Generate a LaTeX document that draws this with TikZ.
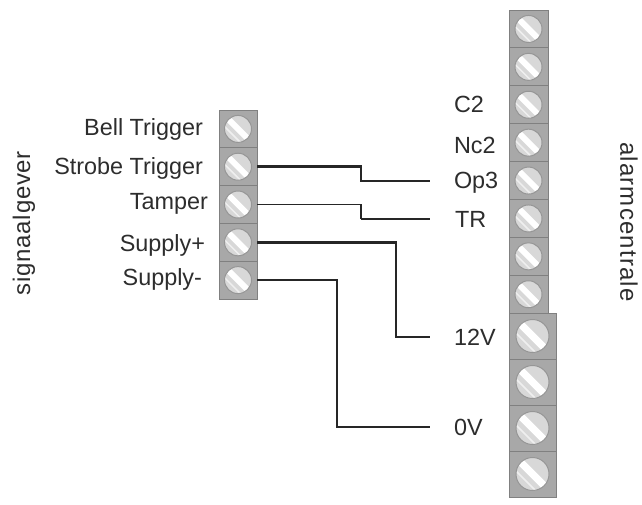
\documentclass[tikz,border=0pt]{standalone}
\usepackage{fontspec}
\setmainfont{Liberation Sans}
\newcommand{\termcell}[6]{% name, x, y, w, h, r
  \node[cellbox,minimum width=#4pt,minimum height=#5pt] (#1) at (#2+#4/2,#3+#5/2) {};
  \begin{scope}
    \clip (#1.center) circle (#6pt);
    \fill[screwface] (#1.center) circle (#6pt);
    \fill[screwslot,rotate around={-45:(#1.center)}] ($(#1.center)+(-#6,-0.22*#6)$) rectangle ($(#1.center)+(#6,0.22*#6)$);
    \draw[screwfaint,rotate around={-45:(#1.center)}] ($(#1.center)+(-#6,0.58*#6)$) -- ($(#1.center)+(#6,0.58*#6)$);
  \end{scope}
  \draw[screwrim] (#1.center) circle (#6pt);
}
\usetikzlibrary{calc}
\definecolor{cellgray}{RGB}{168,168,168}
\definecolor{celledge}{RGB}{128,128,128}
\definecolor{facegray}{RGB}{216,216,216}
\definecolor{rimgray}{RGB}{150,150,150}
\definecolor{inkc}{RGB}{45,45,45}
\tikzset{
  x=1pt,y=-1pt,
  cellbox/.style={draw=celledge,fill=cellgray,line width=0.9pt,inner sep=0pt,outer sep=0pt},
  screwface/.style={fill=facegray},
  screwslot/.style={fill=white},
  screwfaint/.style={draw=white,line width=1.5pt,opacity=.6},
  screwrim/.style={draw=rimgray,line width=1pt},
  lab/.style={font=\fontsize{23.4}{26}\selectfont,text=inkc,inner sep=0pt,outer sep=0pt},
  sidea/.style={font=\fontsize{24}{28}\selectfont\addfontfeature{LetterSpace=3},text=inkc,inner sep=0pt,outer sep=0pt},
  sideb/.style={font=\fontsize{24}{28}\selectfont\addfontfeature{LetterSpace=5},text=inkc,inner sep=0pt,outer sep=0pt},
  wire/.style={draw=black!85,line width=2.6pt},
  thinwire/.style={draw=black!85,line width=1.6pt},
}
\begin{document}
\begin{tikzpicture}
\useasboundingbox (0,0) rectangle (642,504);
\fill[white] (0,0) rectangle (642,504);
% right strip, narrow cells
\foreach \i [evaluate=\i as \yy using 10+\i*37.9] in {0,...,7} {
  \termcell{r\i}{509}{\yy}{39}{37.9}{13.5}
}
% right strip, wide cells
\foreach \i [evaluate=\i as \yy using 313+\i*46] in {0,...,3} {
  \termcell{w\i}{509}{\yy}{47}{46}{16.5}
}
% left strip
\foreach \i [evaluate=\i as \yy using 110+\i*37.8] in {0,...,4} {
  \termcell{l\i}{219}{\yy}{38}{37.8}{13.5}
}
% left labels
\node[lab,anchor=base east] (bt) at (203,135) {Bell Trigger};
\node[lab,anchor=base east] (st) at (203,174) {Strobe Trigger};
\node[lab,anchor=base east] (ta) at (208,209) {Tamper};
\node[lab,anchor=base east] (sp) at (205,251) {Supply+};
\node[lab,anchor=base east] (sm) at (202,285) {Supply-};
% right labels
\node[lab,anchor=base west] (c2) at (454,112) {C2};
\node[lab,anchor=base west] (nc) at (454,153) {Nc2};
\node[lab,anchor=base west] (op) at (454,188) {Op3};
\node[lab,anchor=base west] (tr) at (455,227) {TR};
\node[lab,anchor=base west] (v12) at (454,345) {12V};
\node[lab,anchor=base west] (v0) at (454,435) {0V};
% side labels
\node[sidea,rotate=90] (sig) at (24,223) {signaalgever};
\node[sideb,rotate=-90] (ala) at (629,222) {alarmcentrale};
% wires
\coordinate (eop) at (430,181);
\coordinate (etr) at (430,219);
\coordinate (e12) at (430,337);
\coordinate (e0) at (430,427);
\draw[wire] (l1.east) -| (361,181) -- (eop);
\draw[thinwire] (l2.east) -| (361,219);
\draw[wire] (361,219) -- (etr);
\draw[wire] (l3.east) -| (396,337) -- (e12);
\draw[wire] (l4.east) -| (337,427) -- (e0);
\end{tikzpicture}
\end{document}
